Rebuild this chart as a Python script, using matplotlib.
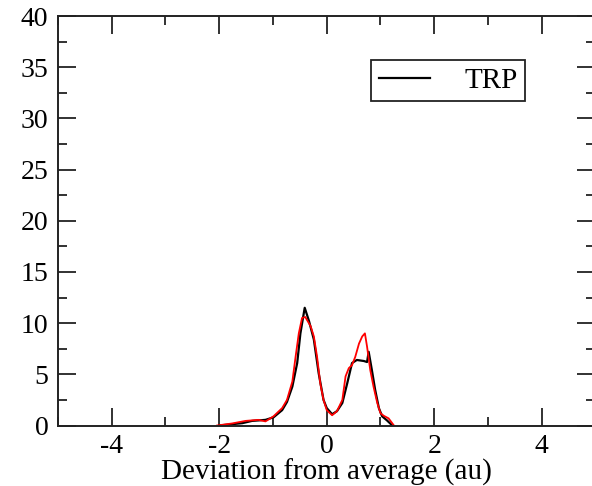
import matplotlib
matplotlib.use("Agg")
import matplotlib.pyplot as plt
from matplotlib.ticker import MultipleLocator

# Black curve (TRP)
x_black = [-2.00, -1.57, -1.39, -1.14, -0.99, -0.83, -0.74, -0.64, -0.55, -0.49, -0.41,
           -0.33, -0.24, -0.15, -0.06, 0.00, 0.10, 0.19, 0.29, 0.38, 0.47, 0.56, 0.69,
           0.75, 0.78, 0.84, 0.90, 0.97, 1.03, 1.12, 1.22]
y_black = [0.0, 0.23, 0.45, 0.55, 0.8, 1.5, 2.3, 3.8, 6.1, 9.0, 11.5,
           10.2, 8.4, 5.1, 2.5, 1.7, 1.1, 1.4, 2.2, 4.1, 6.1, 6.4, 6.3,
           6.2, 7.2, 5.4, 3.5, 1.7, 0.9, 0.5, 0.0]

# Red curve
x_red = [-2.04, -1.76, -1.51, -1.27, -1.14, -0.99, -0.83, -0.74, -0.64, -0.58, -0.52,
         -0.46, -0.40, -0.30, -0.24, -0.18, -0.12, -0.06, 0.00, 0.10, 0.19, 0.29,
         0.35, 0.41, 0.47, 0.53, 0.60, 0.66, 0.71, 0.75, 0.81, 0.87, 0.94, 1.00,
         1.06, 1.15, 1.25]
y_red = [0.0, 0.2, 0.45, 0.55, 0.4, 0.9, 1.7, 2.5, 4.3, 6.7, 9.0,
         10.5, 10.6, 9.7, 8.7, 6.7, 4.1, 2.5, 1.5, 1.0, 1.4, 2.5,
         4.8, 5.6, 5.9, 6.7, 8.0, 8.7, 9.0, 7.7, 5.4, 3.8, 2.2, 1.2,
         0.95, 0.7, 0.0]

x_ticks = [-4, -2, 0, 2, 4]
y_ticks = [0, 5, 10, 15, 20, 25, 30, 35, 40]

plt.rcParams['font.family'] = ['Liberation Serif', 'DejaVu Serif']
plt.rcParams['axes.unicode_minus'] = False

fig = plt.figure(figsize=(5.92, 4.86), dpi=100)
ax = fig.add_axes([58/592, 60.5/486, 537.5/592, 409.5/486])

ax.plot(x_black, y_black, color='black', lw=1.6, label='TRP')
ax.plot(x_red, y_red, color='red', lw=1.3)

ax.set_xlim(-5, 5)
ax.set_ylim(0, 40)
ax.set_xticks(x_ticks)
ax.set_yticks(y_ticks)
ax.xaxis.set_minor_locator(MultipleLocator(1))
ax.yaxis.set_minor_locator(MultipleLocator(2.5))
ax.tick_params(which='both', direction='in', top=True, right=True,
               width=1.3, color='#222222', labelsize=20)
ax.tick_params(axis='x', pad=6)
ax.tick_params(axis='y', pad=7)
ax.tick_params(which='major', length=13)
ax.tick_params(which='minor', length=6.5)
for s in ax.spines.values():
    s.set_linewidth(1.4)
    s.set_color('#222222')

ax.set_xlabel('Deviation from average (au)', fontsize=21, labelpad=0)

leg = ax.legend(loc='upper right', bbox_to_anchor=(0.869, 0.8925), borderaxespad=0,
                fancybox=False, framealpha=1, edgecolor='#222222', fontsize=21,
                handlelength=1.75, handletextpad=1.2, borderpad=0.25)
leg.get_frame().set_linewidth(1.3)

fig.savefig('out.png', dpi=100)
